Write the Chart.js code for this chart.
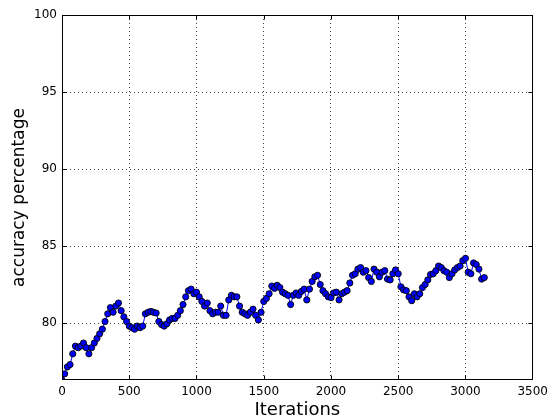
<!DOCTYPE html>
<html>
<head>
<meta charset="utf-8">
<script src="https://cdn.jsdelivr.net/npm/chart.js@4/dist/chart.umd.min.js"></script>
<style>
  html, body { margin: 0; padding: 0; background: #fff; }
  #wrap { width: 553px; height: 419px; }
</style>
</head>
<body>
<div id="wrap"><canvas id="c" width="553" height="419"></canvas></div>
<script>
// Validation accuracy logged every LOG_EVERY training iterations.
const LOG_EVERY = 20;
const accuracy = [
  76.3, 76.7, 77.15, 77.3, 78.0, 78.5, 78.4, 78.5, 78.7, 78.4,
  78.0, 78.4, 78.7, 79.0, 79.3, 79.6, 80.1, 80.6, 81.0, 80.7,
  81.1, 81.3, 80.8, 80.4, 80.1, 79.8, 79.7, 79.6, 79.8, 79.7,
  79.8, 80.6, 80.7, 80.75, 80.7, 80.65, 80.1, 79.9, 79.8, 79.95,
  80.2, 80.3, 80.3, 80.5, 80.8, 81.2, 81.7, 82.1, 82.2, 81.9,
  82.0, 81.7, 81.4, 81.1, 81.3, 80.8, 80.6, 80.7, 80.7, 81.1,
  80.5, 80.5, 81.5, 81.8, 81.7, 81.7, 81.1, 80.7, 80.6, 80.5,
  80.7, 80.9, 80.5, 80.2, 80.7, 81.4, 81.6, 81.9, 82.4, 82.25,
  82.45, 82.3, 82.0, 81.9, 81.8, 81.2, 81.8, 81.95, 81.8, 82.05,
  82.2, 81.5, 82.2, 82.7, 83.0, 83.1, 82.5, 82.1, 81.9, 81.7,
  81.65, 81.95, 82.0, 81.5, 81.9, 82.0, 82.1, 82.6, 83.1, 83.2,
  83.5, 83.6, 83.3, 83.4, 82.95, 82.7, 83.5, 83.3, 83.0, 83.3,
  83.4, 82.85, 82.8, 83.2, 83.45, 83.2, 82.35, 82.15, 82.1, 81.7,
  81.45, 81.9, 81.7, 81.9, 82.3, 82.5, 82.8, 83.15, 83.2, 83.4,
  83.7, 83.6, 83.4, 83.3, 82.95, 83.2, 83.45, 83.6, 83.7, 84.05,
  84.2, 83.3, 83.2, 83.9, 83.8, 83.5, 82.85, 82.95
];
const xTicks = [0, 500, 1000, 1500, 2000, 2500, 3000, 3500];
const yTicks = [80, 85, 90, 95, 100];
const X_MIN = 0, X_MAX = 3500;
const Y_MIN = 76.3, Y_MAX = 100;

const points = accuracy.map((v, i) => ({ x: i * LOG_EVERY, y: v }));

// Black box round the plot with short inward ticks on all four sides.
const framePlugin = {
  id: 'frame',
  afterDraw(chart) {
    const { ctx, chartArea: a, scales: { x, y } } = chart;
    const L = 4;
    const l = Math.round(a.left) + 0.5, r = Math.round(a.right) - 0.5;
    const t = Math.round(a.top) + 0.5, b = Math.round(a.bottom) - 0.5;
    const clamp = (v, lo, hi) => Math.min(hi, Math.max(lo, v));
    ctx.save();
    ctx.strokeStyle = '#000';
    ctx.lineWidth = 1;
    ctx.beginPath();
    xTicks.forEach(v => {
      const px = clamp(Math.round(x.getPixelForValue(v)) + 0.5, l, r);
      ctx.moveTo(px, b); ctx.lineTo(px, b - L);
      ctx.moveTo(px, t); ctx.lineTo(px, t + L);
    });
    yTicks.forEach(v => {
      const py = clamp(Math.round(y.getPixelForValue(v)) + 0.5, t, b);
      ctx.moveTo(l, py); ctx.lineTo(l + L, py);
      ctx.moveTo(r, py); ctx.lineTo(r - L, py);
    });
    ctx.stroke();
    ctx.strokeRect(l, t, r - l, b - t);
    ctx.restore();
  }
};

const tickFont = { family: 'DejaVu Sans', size: 12 };
const plainLabel = v => String(v);
// Dotted grid only inside the box; the edges are covered by the frame.
const gridColor = (lo, hi) => ctx =>
  (ctx.tick && (ctx.tick.value === lo || ctx.tick.value === hi)) ? 'rgba(0,0,0,0)' : 'rgba(0,0,0,0.75)';

new Chart(document.getElementById('c'), {
  type: 'line',
  data: {
    datasets: [{
      data: points,
      borderColor: '#0000ff',
      borderWidth: 1,
      backgroundColor: '#0000ff',
      pointBackgroundColor: '#0000ff',
      pointBorderColor: '#000000',
      pointBorderWidth: 0.9,
      pointRadius: 3.1,
      tension: 0,
      fill: false
    }]
  },
  options: {
    responsive: false,
    animation: false,
    devicePixelRatio: 1,
    layout: { padding: { top: 15, right: 18, left: 0, bottom: 0 } },
    plugins: { legend: { display: false }, tooltip: { enabled: false } },
    scales: {
      x: {
        type: 'linear',
        min: X_MIN, max: X_MAX,
        afterFit(s) { s.height = 39; },
        afterBuildTicks(s) { s.ticks = xTicks.map(v => ({ value: v })); },
        grid: { color: gridColor(X_MIN, X_MAX), lineWidth: 1, drawTicks: false },
        border: { display: false, dash: [1, 3] },
        ticks: { color: '#000', font: tickFont, padding: 5, maxRotation: 0, autoSkip: false, callback: plainLabel },
        title: {
          display: true, text: 'Iterations', color: '#000',
          font: { family: 'DejaVu Sans', size: 18, lineHeight: 1 },
          padding: { top: 0, bottom: 0 }
        }
      },
      y: {
        type: 'linear',
        min: Y_MIN, max: Y_MAX,
        afterFit(s) { s.width = 62; },
        afterBuildTicks(s) { s.ticks = yTicks.map(v => ({ value: v })); },
        grid: { color: gridColor(Y_MIN, Y_MAX), lineWidth: 1, drawTicks: false },
        border: { display: false, dash: [1, 3] },
        ticks: { color: '#000', font: tickFont, padding: 5, callback: plainLabel },
        title: {
          display: true, text: 'accuracy percentage', color: '#000',
          font: { family: 'DejaVu Sans', size: 17, lineHeight: 1 },
          padding: { top: 11.5, bottom: 0 }
        }
      }
    }
  },
  plugins: [framePlugin]
});
</script>
</body>
</html>
